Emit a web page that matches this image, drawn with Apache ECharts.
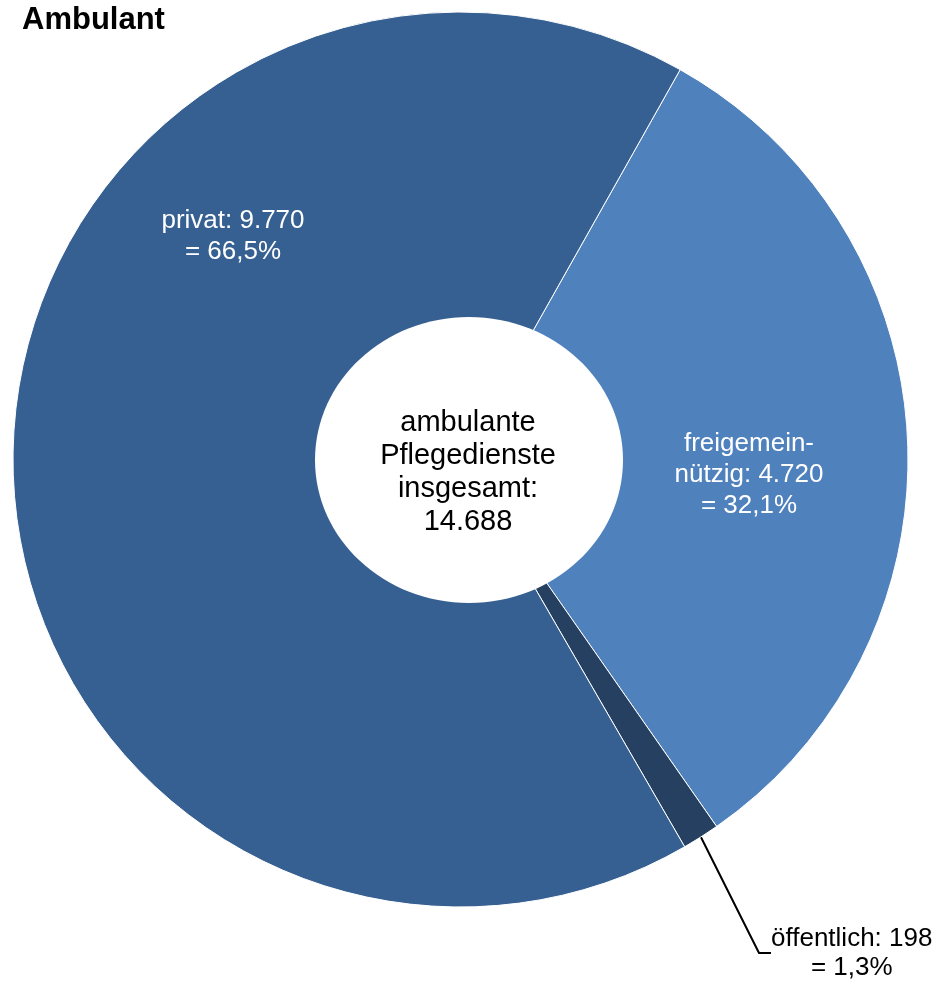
<!DOCTYPE html>
<html>
<head>
<meta charset="utf-8">
<title>Ambulant</title>
<script src="https://cdn.jsdelivr.net/npm/echarts@6/dist/echarts.min.js"></script>
<style>
  html, body { margin: 0; padding: 0; background: #fff; }
  #chart { width: 937px; height: 981px; }
</style>
</head>
<body>
<div id="chart"></div>
<script>
// Daten
var categories = ["freigemeinnützig", "öffentlich", "privat"];
var labelNames = ["freigemein-\nnützig", "öffentlich", "privat"];
var values = [4720, 198, 9770];
var colors = ["#4f81bd", "#254061", "#376092"];
var centerLines = ["ambulante", "Pflegedienste", "insgesamt:"];

var FONT = "'Liberation Sans', Arial, sans-serif";

function fmtNum(n) {
  return String(n).replace(/\B(?=(\d{3})+(?!\d))/g, ".");
}
function fmtPct(p) {
  return p.toFixed(1).replace(".", ",") + "%";
}

var total = values.reduce(function (a, b) { return a + b; }, 0);

var chart = echarts.init(document.getElementById("chart"));

var option = {
  animation: false,
  backgroundColor: "#fff",
  title: {
    text: "Ambulant",
    left: 22,
    top: 5,
    padding: 0,
    textStyle: {
      fontFamily: FONT,
      fontSize: 31,
      fontWeight: "bold",
      color: "#000"
    }
  },
  graphic: [
    // weisses Loch in der Mitte (leicht oval wie im Original)
    {
      type: "ellipse",
      z: 90,
      shape: { cx: 469, cy: 460, rx: 154, ry: 143 },
      style: { fill: "#fff" }
    },
    {
      type: "text",
      x: 468,
      y: 472,
      z: 100,
      style: {
        text: centerLines.join("\n") + "\n" + fmtNum(total),
        align: "center",
        verticalAlign: "middle",
        fontFamily: FONT,
        fontSize: 29,
        lineHeight: 33,
        fill: "#000"
      }
    }
  ],
  series: [
    {
      type: "pie",
      center: [460.5, 459.5],
      radius: [130, 447.5],
      startAngle: 60.6,
      clockwise: true,
      avoidLabelOverlap: false,
      silent: true,
      itemStyle: {
        borderColor: "#fff",
        borderWidth: 1
      },
      label: {
        show: true,
        position: "inside",
        fontFamily: FONT,
        fontSize: 26,
        lineHeight: 31,
        color: "#fff",
        align: "center",
        formatter: function (p) {
          return labelNames[p.dataIndex] + ": " + fmtNum(p.value) + "\n= " + fmtPct(p.value / total * 100);
        }
      },
      labelLine: { show: false },
      labelLayout: function (params) {
        if (params.dataIndex === 0) {
          return { x: 749, y: 475, align: "center", verticalAlign: "middle" };
        }
        if (params.dataIndex === 2) {
          return { x: 233, y: 236, align: "center", verticalAlign: "middle" };
        }
        if (params.dataIndex === 1) {
          return { x: 771, y: 953, align: "left", verticalAlign: "middle" };
        }
      },
      data: categories.map(function (c, i) {
        var item = {
          name: c,
          value: values[i],
          itemStyle: { color: colors[i] }
        };
        if (i === 1) {
          item.label = {
            position: "outside",
            formatter: function (p) {
              return "{a|" + labelNames[1] + ": " + fmtNum(p.value) + "}\n{b|= " + fmtPct(p.value / total * 100) + "}";
            },
            rich: {
              a: { fontFamily: FONT, fontSize: 26, lineHeight: 29, color: "#000" },
              b: { fontFamily: FONT, fontSize: 26, lineHeight: 29, color: "#000", align: "center" }
            }
          };
          item.labelLine = {
            show: true,
            length: 110,
            length2: 12,
            lineStyle: { color: "#000", width: 2 }
          };
        }
        return item;
      })
    }
  ]
};

chart.setOption(option);
</script>
</body>
</html>
